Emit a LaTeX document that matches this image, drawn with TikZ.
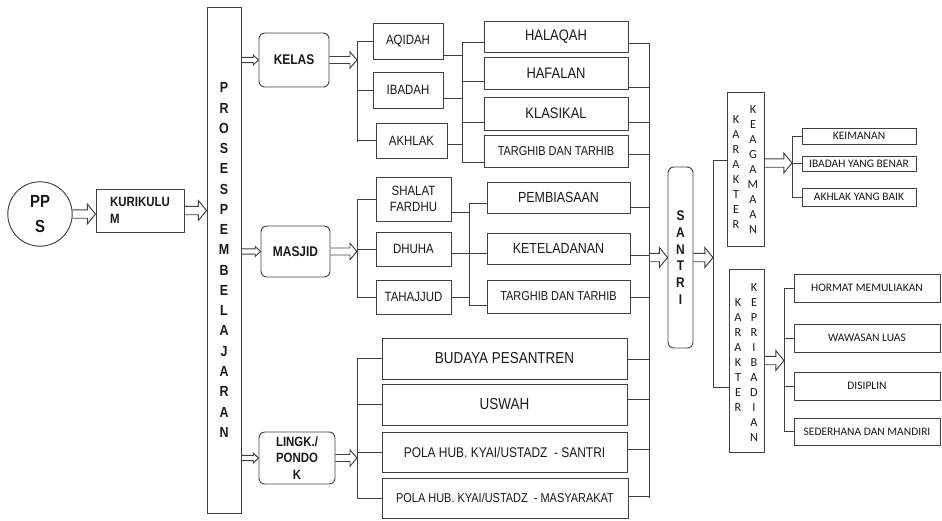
\documentclass[tikz,border=0pt]{standalone}
\usepackage{fontspec}
\setmainfont{Liberation Sans}[FakeStretch=0.85]
\newfontfamily\calib{Carlito}
\usetikzlibrary{calc}

\tikzset{
  box/.style={draw=black!75, line width=0.8pt, inner sep=0pt, text=black!90},
  rbox/.style={box, rounded corners=5pt},
  area/.style args={#1/#2/#3/#4}{at={({(#1+#3)/2},{(#2+#4)/2})},
      minimum width={(#3-#1)*0.03cm}, minimum height={(#4-#2)*0.03cm}},
  link/.style={draw=black!75, line width=0.8pt},
  fatarrow/.style n args={3}{link, to path={let \p1=(\tikztostart), \p2=(\tikztotarget) in
      (\x1,\y1+#1) -- (\x2-#3,\y1+#1) -- (\x2-#3,\y1+#2) -- (\x2,\y1)
      -- (\x2-#3,\y1-#2) -- (\x2-#3,\y1-#1) -- (\x1,\y1-#1)}},
  bigarr/.style={fatarrow={3.6pt}{8.5pt}{7pt}},
  midarr/.style={fatarrow={3pt}{7pt}{6pt}},
  smallarr/.style={fatarrow={2.2pt}{4.2pt}{4.5pt}},
  txtL/.style={font=\fontsize{13}{15}\selectfont},
  txtB/.style={font=\fontsize{13.5}{16}\selectfont},
  txtM/.style={font=\fontsize{11.5}{14}\selectfont, align=center},
  txtT/.style={font=\fontsize{11}{13}\selectfont},
  txtR/.style={font=\calib\fontsize{9.8}{12}\selectfont},
  ktext/.style={inner sep=0pt, align=center, text=black!90, font=\calib\fontsize{10.5}{12.8}\selectfont},
}

\begin{document}
\begin{tikzpicture}[x=0.03cm, y=-0.03cm]
\useasboundingbox (0,0) rectangle (942,520);

% input side
\node[box, circle, minimum size=55pt, align=center, font=\bfseries\fontsize{15}{21}\selectfont] (pps) at (40,214) {PP\\S};
\node[box, area=96/189/184/232, align=left, font=\bfseries\fontsize{11.5}{14.5}\selectfont] (kur) {KURIKULU\\M};
\node[box, area=207/7/241/513, align=center, font=\bfseries\fontsize{12.5}{17.3}\selectfont] (proses)
  {P\\R\\O\\S\\E\\S\\P\\E\\M\\B\\E\\L\\A\\J\\A\\R\\A\\N};

% three places
\node[rbox, area=259/33/329/87, font=\bfseries\fontsize{12}{14}\selectfont] (kelas) {KELAS};
\node[rbox, area=261/226/330/277, font=\bfseries\fontsize{12}{14}\selectfont] (masjid) {MASJID};
\node[rbox, area=259/432/335/484, align=center, font=\bfseries\fontsize{11.5}{14}\selectfont] (lingk) {LINGK./\\PONDO\\K};

% kelas
\node[box, area=373/23/443/59, txtM] (aqidah) {AQIDAH};
\node[box, area=373/72/443/108, txtM] (ibadah) {IBADAH};
\node[box, area=376/123/447/158, txtM] (akhlak) {AKHLAK};
\node[box, area=484/21/628/52, txtL] (halaqah) {HALAQAH};
\node[box, area=484/57/628/89, txtL] (hafalan) {HAFALAN};
\node[box, area=484/97/628/130, txtL] (klasikal) {KLASIKAL};
\node[box, area=484/135/628/167, txtT] (targhib1) {TARGHIB DAN TARHIB};

% masjid
\node[box, area=376/177/451/221, txtM] (shalat) {SHALAT\\FARDHU};
\node[box, area=376/232/451/266, txtM] (dhuha) {DHUHA};
\node[box, area=376/280/451/314, txtM] (tahajjud) {TAHAJJUD};
\node[box, area=487/182/630/213, font=\fontsize{12.5}{15}\selectfont] (pembiasaan) {PEMBIASAAN};
\node[box, area=487/233/630/264, font=\fontsize{12.5}{15}\selectfont] (keteladanan) {KETELADANAN};
\node[box, area=487/280/630/313, txtT] (targhib2) {TARGHIB DAN TARHIB};

% lingkungan pondok
\node[box, area=382/338/627/379, txtB] (budaya) {BUDAYA PESANTREN};
\node[box, area=382/384/627/425, txtB] (uswah) {USWAH};
\node[box, area=382/432/627/472, font=\fontsize{12}{14}\selectfont] (pola1) {POLA HUB. KYAI/USTADZ \ - SANTRI};
\node[box, area=382/478/628/518, txtT] (pola2) {POLA HUB. KYAI/USTADZ \ - MASYARAKAT};

% santri and karakter
\node[rbox, area=668/167/693/348, align=center, font=\bfseries\fontsize{12}{14.2}\selectfont] (santri) {S\\A\\N\\T\\R\\I};
\node[box, area=727/92/764/246] (kkg) {};
\node[ktext] (kkg1) at ($(kkg.center)+(-9.5,3)$) {K\\A\\R\\A\\K\\T\\E\\R};
\node[ktext] (kkg2) at ($(kkg.center)+(7.5,1)$) {K\\E\\A\\G\\A\\M\\A\\A\\N};
\node[box, area=729/269/764/452] (kkp) {};
\node[ktext] (kkp1) at ($(kkp.center)+(-8.5,-5)$) {K\\A\\R\\A\\K\\T\\E\\R};
\node[ktext] (kkp2) at ($(kkp.center)+(7.5,2.5)$) {K\\E\\P\\R\\I\\B\\A\\D\\I\\A\\N};

\node[box, area=802/128/916/144, txtR] (keimanan) {KEIMANAN};
\node[box, area=802/156/916/171, txtR] (ibadahb) {IBADAH YANG BENAR};
\node[box, area=802/188/916/206, txtR] (akhlakb) {AKHLAK YANG BAIK};
\node[box, area=794/274/940/302, txtR] (hormat) {HORMAT MEMULIAKAN};
\node[box, area=794/324/940/352, txtR] (wawasan) {WAWASAN LUAS};
\node[box, area=794/372/940/400, txtR] (disiplin) {DISIPLIN};
\node[box, area=794/418/940/445, txtR] (sederhana) {SEDERHANA DAN MANDIRI};

% arrows
\draw[bigarr] (pps.east) to (kur.west);
\draw[bigarr] (kur.east) to (kur.east -| proses.west);
\draw[smallarr] (kelas.west -| proses.east) to (kelas.west);
\draw[smallarr] (masjid.west -| proses.east) to (masjid.west);
\draw[smallarr] (lingk.west -| proses.east) to (lingk.west);

% kelas branches
\coordinate (k1) at (357,141);
\draw[midarr] (kelas.east) to (kelas.east -| k1);
\foreach \n in {aqidah,ibadah,akhlak} \draw[link] (\n.west) -| (k1);
\coordinate (k2) at (462,162);
\foreach \n/\s in {aqidah/14,ibadah/8,akhlak/3.5} \draw[link] ([shift={(0,\s)}]\n.east) -| (k2);
\foreach \n/\s in {halaqah/5.5,hafalan/8,klasikal/8.5,targhib1/11} \draw[link] ([shift={(0,\s)}]\n.west) -| (k2);

% masjid branches
\coordinate (m1) at (357,297);
\draw[midarr] (masjid.east) to (masjid.east -| m1);
\foreach \n in {shalat,dhuha,tahajjud} \draw[link] (\n.west) -| (m1);
\coordinate (m2) at (469,305);
\foreach \n/\s in {shalat/13,dhuha/4,tahajjud/0} \draw[link] ([shift={(0,\s)}]\n.east) -| (m2);
\foreach \n/\s in {pembiasaan/5.5,keteladanan/4.5,targhib2/8.5} \draw[link] ([shift={(0,\s)}]\n.west) -| (m2);

% pondok branches
\coordinate (l1) at (357,499);
\draw[midarr] (lingk.east) to (lingk.east -| l1);
\foreach \n in {budaya,uswah,pola1,pola2} \draw[link] (\n.west) -| (l1);

% into santri
\coordinate (col) at (649,497);
\foreach \n/\s in {halaqah/6.5,hafalan/14,klasikal/8.5,targhib1/3,pembiasaan/9.5,keteladanan/6.5,targhib2/0.5,budaya/0.5,uswah/-5.5,pola1/-3,pola2/-1.5}
  \draw[link] ([shift={(0,\s)}]\n.east) -| (col);
\draw[bigarr] (santri.west -| col) to (santri.west);

% karakter
\coordinate (kr) at (713,387);
\draw[bigarr] (santri.east) to (santri.east -| kr);
\draw[link] ([shift={(0,-9)}]kkg.west) -| (kr);
\draw[link] ([shift={(0,26.5)}]kkp.west) -| (kr);

\coordinate (ka) at (792,197);
\draw[bigarr] ([shift={(0,-6)}]kkg.east) to (ka);
\foreach \n in {keimanan,ibadahb,akhlakb} \draw[link] (\n.west) -| (ka);

\coordinate (kp) at (784,431.5);
\draw[bigarr] (kkp.east) to (kp);
\foreach \n in {hormat,wawasan,disiplin,sederhana} \draw[link] (\n.west) -| (kp);
\end{tikzpicture}
\end{document}
